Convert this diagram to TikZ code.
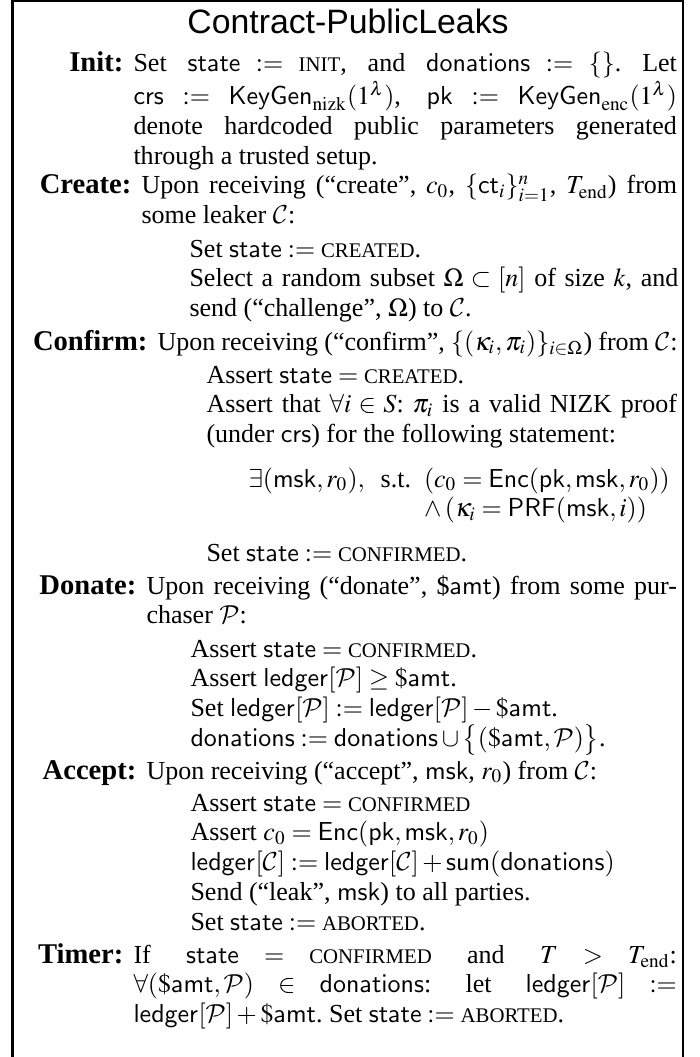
\documentclass[tikz,border=0pt]{standalone}
\usepackage{amsmath}
\usepackage{amssymb}
\usepackage{mathptmx}
\usepackage{fontspec}
\setmainfont{Liberation Serif}
\newfontfamily\titlefont{Liberation Sans}
\DeclareMathAlphabet{\mathcal}{OMS}{cmsy}{m}{n}
\usetikzlibrary{positioning}
\frenchspacing

% contract states are set in (faked) small capitals
\newcommand{\stname}[1]{\text{\fontsize{8}{10}\selectfont #1}}

\begin{document}
\begin{tikzpicture}[x=0.3846pt, y=-0.3846pt, font=\fontsize{10}{11.5}\selectfont]
    \tikzstyle{itemlabel} = [anchor=base east, inner sep=0pt, font=\bfseries\fontsize{11}{13}\selectfont]
    \tikzstyle{itembody} = [anchor=base west, inner sep=0pt, align=justify]
    \tikzstyle{frame} = [line width=0.8pt]

    \useasboundingbox (0,0) rectangle (700,1057);

    % Box and title
    \draw [frame] (12.5,1057) -- (12.5,0.6) -- (683,0.6) -- (683,1057);
    \node [anchor=base, inner sep=0pt, font=\titlefont\fontsize{13}{15}\selectfont] (title) at (348,34) {Contract-PublicLeaks};

    % Init
    \node [itembody, text width=209pt] (init) at (133,72) {Set $\mathsf{state} := \stname{INIT}$, and $\mathsf{donations} := \{\}$. Let\linebreak
        $\mathsf{crs} := \mathsf{KeyGen}_{\rm nizk}(1^\lambda)$, $\mathsf{pk} := \mathsf{KeyGen}_{\rm enc}(1^\lambda)$\linebreak
        denote hardcoded public parameters generated\linebreak through a trusted setup.};
    \node [itemlabel] (initlbl) at ([xshift=-3.5pt]init.base west) {Init:};

    % Create
    \node [itembody, text width=206pt] (create) at (141,194) {Upon receiving (``create'', $c_0$, $\{\mathsf{ct}_i\}_{i=1}^n$, $T_{\rm end}$) from\linebreak some leaker $\mathcal{C}$:};
    \node [itemlabel] (createlbl) at ([xshift=-3.5pt]create.base west) {Create:};
    \node [itembody, text width=188pt] (createsub) at (189,257) {Set $\mathsf{state} := \stname{CREATED}$.\\
        Select a random subset $\Omega \subset [n]$ of size $k$, and\linebreak send (``challenge'', $\Omega$) to $\mathcal{C}$.};

    % Confirm
    \node [itembody, text width=200pt] (confirm) at (157,350) {Upon receiving (``confirm'', $\{(\kappa_i, \pi_i)\}_{i\in\Omega}$) from $\mathcal{C}$:};
    \node [itemlabel] (confirmlbl) at ([xshift=-3.5pt]confirm.base west) {Confirm:};
    \node [itembody, text width=181pt] (confirmsub) at (206,383) {Assert $\mathsf{state} = \stname{CREATED}$.\\
        Assert that $\forall i \in S$: $\pi_i$ is a valid NIZK proof\linebreak (under $\mathsf{crs}$) for the following statement:};
    \node [itembody, text width=170pt] (stmt) at (248,487) {$\exists(\mathsf{msk}, r_0),\enskip \text{s.t.}\enskip (c_0 = \mathsf{Enc}(\mathsf{pk}, \mathsf{msk}, r_0))$\\
        \phantom{$\exists(\mathsf{msk}, r_0),\enskip \text{s.t.}\enskip $}$\wedge\:(\kappa_i = \mathsf{PRF}(\mathsf{msk}, i))$};
    \node [itembody, text width=181pt] (confirmend) at (206,561) {Set $\mathsf{state} := \stname{CONFIRMED}$.};

    % Donate
    \node [itembody, text width=204pt] (donate) at (146,594) {Upon receiving (``donate'', \$$\mathsf{amt}$) from some pur-\linebreak chaser $\mathcal{P}$:};
    \node [itemlabel] (donatelbl) at ([xshift=-3.5pt]donate.base west) {Donate:};
    \node [itembody, text width=187pt] (donatesub) at (190,657) {Assert $\mathsf{state} = \stname{CONFIRMED}$.\\
        Assert $\mathsf{ledger}[\mathcal{P}] \geq \$\mathsf{amt}$.\\
        Set $\mathsf{ledger}[\mathcal{P}] := \mathsf{ledger}[\mathcal{P}] - \$\mathsf{amt}$.\\
        $\mathsf{donations} := \mathsf{donations} \cup \big\{(\$\mathsf{amt}, \mathcal{P})\big\}$.};

    % Accept
    \node [itembody, text width=204pt] (accept) at (146,779) {Upon receiving (``accept'', $\mathsf{msk}$, $r_0$) from $\mathcal{C}$:};
    \node [itemlabel] (acceptlbl) at ([xshift=-3.5pt]accept.base west) {Accept:};
    \node [itembody, text width=187pt] (acceptsub) at (190,811) {Assert $\mathsf{state} = \stname{CONFIRMED}$\\
        Assert $c_0 = \mathsf{Enc}(\mathsf{pk}, \mathsf{msk}, r_0)$\\
        $\mathsf{ledger}[\mathcal{C}] := \mathsf{ledger}[\mathcal{C}] + \mathsf{sum}(\mathsf{donations})$\\
        Send (``leak'', $\mathsf{msk}$) to all parties.\\
        Set $\mathsf{state} := \stname{ABORTED}$.};

    % Timer
    \node [itembody, text width=209pt] (timer) at (133,963) {If $\mathsf{state} = \stname{CONFIRMED}$ and $T > T_{\rm end}$:\linebreak
        $\forall(\$\mathsf{amt}, \mathcal{P}) \in \mathsf{donations}$: let $\mathsf{ledger}[\mathcal{P}] :=$\linebreak
        $\mathsf{ledger}[\mathcal{P}] + \$\mathsf{amt}$. Set $\mathsf{state} := \stname{ABORTED}$.};
    \node [itemlabel] (timerlbl) at ([xshift=-3.5pt]timer.base west) {Timer:};
\end{tikzpicture}
\end{document}
